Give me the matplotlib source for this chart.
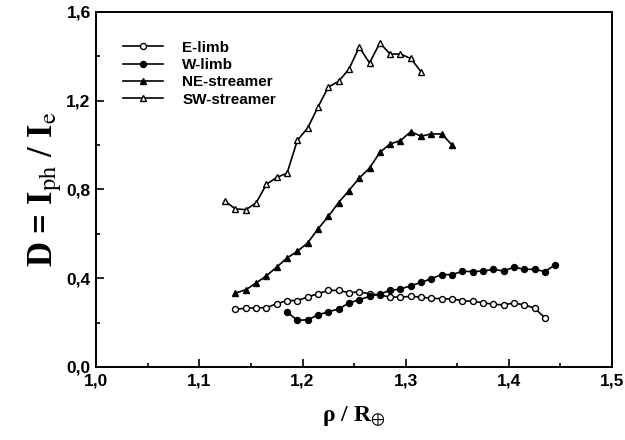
import numpy as np
import matplotlib.pyplot as plt
from matplotlib.ticker import MultipleLocator, FuncFormatter

plt.rcParams['mathtext.fontset'] = 'stix'

# E-limb (open circles)
e_x = [1.135, 1.145, 1.155, 1.165, 1.175, 1.185, 1.195, 1.205, 1.215, 1.225,
       1.235, 1.245, 1.255, 1.265, 1.275, 1.285, 1.295, 1.305, 1.315, 1.325,
       1.335, 1.345, 1.355, 1.365, 1.375, 1.385, 1.395, 1.405, 1.415, 1.425, 1.435]
e_y = [0.261, 0.264, 0.267, 0.267, 0.285, 0.299, 0.299, 0.315, 0.330, 0.345,
       0.345, 0.335, 0.338, 0.330, 0.324, 0.315, 0.315, 0.318, 0.315, 0.309,
       0.308, 0.306, 0.299, 0.295, 0.290, 0.282, 0.280, 0.288, 0.280, 0.265, 0.222]

# W-limb (filled circles)
w_x = [1.185, 1.195, 1.205, 1.215, 1.225, 1.235, 1.245, 1.255, 1.265, 1.275,
       1.285, 1.295, 1.305, 1.315, 1.325, 1.335, 1.345, 1.355, 1.365, 1.375,
       1.385, 1.395, 1.405, 1.415, 1.425, 1.435, 1.445]
w_y = [0.248, 0.210, 0.213, 0.234, 0.249, 0.261, 0.288, 0.303, 0.318, 0.329,
       0.345, 0.351, 0.366, 0.381, 0.398, 0.416, 0.416, 0.431, 0.430, 0.432,
       0.440, 0.432, 0.450, 0.440, 0.440, 0.430, 0.460]

# NE-streamer (filled triangles)
ne_x = [1.135, 1.145, 1.155, 1.165, 1.175, 1.185, 1.195, 1.205, 1.215, 1.225,
        1.235, 1.245, 1.255, 1.265, 1.275, 1.285, 1.295, 1.305, 1.315, 1.325,
        1.335, 1.345]
ne_y = [0.333, 0.348, 0.378, 0.411, 0.450, 0.491, 0.521, 0.559, 0.622, 0.678,
        0.741, 0.795, 0.851, 0.896, 0.967, 1.005, 1.020, 1.060, 1.040, 1.050,
        1.050, 1.000]

# SW-streamer (open triangles)
sw_x = [1.125, 1.135, 1.145, 1.155, 1.165, 1.175, 1.185, 1.195, 1.205, 1.215,
        1.225, 1.235, 1.245, 1.255, 1.265, 1.275, 1.285, 1.295, 1.305, 1.315]
sw_y = [0.746, 0.712, 0.709, 0.739, 0.823, 0.854, 0.873, 1.021, 1.077, 1.171,
        1.261, 1.287, 1.342, 1.441, 1.370, 1.460, 1.410, 1.410, 1.390, 1.330]

fig = plt.figure(figsize=(6.25, 4.4), dpi=100)
ax = fig.add_axes([0.154, 0.166, 0.825, 0.807])

lw = 1.2
ax.plot(e_x, e_y, '-o', color='black', mfc='white', mec='black', ms=4.3, mew=1.0, lw=lw, label='E-limb')
ax.plot(w_x, w_y, '-o', color='black', mfc='black', ms=4.3, lw=lw, label='W-limb')
ax.plot(ne_x, ne_y, '-^', color='black', mfc='black', ms=5, lw=lw, label='NE-streamer')
ax.plot(sw_x, sw_y, '-^', color='black', mfc='white', mec='black', ms=5, mew=1.0, lw=lw, label='SW-streamer')

ax.set_xlim(1.0, 1.5)
ax.set_ylim(0.0, 1.6)
ax.xaxis.set_major_locator(MultipleLocator(0.1))
ax.xaxis.set_minor_locator(MultipleLocator(0.05))
ax.yaxis.set_major_locator(MultipleLocator(0.4))
ax.yaxis.set_minor_locator(MultipleLocator(0.2))
comma = FuncFormatter(lambda v, p: f'{v:.1f}'.replace('.', ','))
ax.xaxis.set_major_formatter(comma)
ax.yaxis.set_major_formatter(comma)
ax.tick_params(which='both', direction='in', top=False, right=False, width=1.2)
ax.tick_params(which='major', length=6, labelsize=12.5)
ax.tick_params(axis='x', which='major', pad=5)
ax.tick_params(axis='y', which='major', pad=4)
ax.tick_params(which='minor', length=3)
for lab in ax.get_xticklabels() + ax.get_yticklabels():
    lab.set_fontweight('bold')
    lab.set_fontfamily('Liberation Sans')
for s in ax.spines.values():
    s.set_linewidth(1.4)

ax.set_xlabel(r'ρ / R$_{\oplus}$', fontsize=17, fontfamily='Liberation Serif', fontweight='bold',
              labelpad=11)
ax.set_ylabel(r'D = I$_{\mathrm{ph}}$ / I$_{\mathrm{e}}$', fontsize=25, fontfamily='Liberation Serif',
              fontweight='bold', labelpad=2)

leg = ax.legend(loc='upper left', bbox_to_anchor=(0.025, 0.958), frameon=False,
                prop={'family': 'Liberation Sans', 'weight': 'bold', 'size': 11},
                handlelength=2.6, handletextpad=1.3, labelspacing=0.22)

fig.savefig('out.png', dpi=100)
